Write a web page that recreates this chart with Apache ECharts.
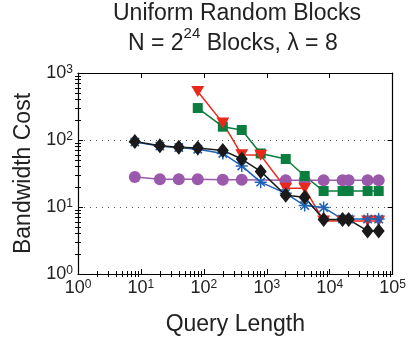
<!DOCTYPE html>
<html>
<head>
<meta charset="utf-8">
<script src="https://cdn.jsdelivr.net/npm/echarts@6/dist/echarts.min.js"></script>
<style>
    html, body { margin: 0; padding: 0; background: #fff; }
    #chart { width: 409px; height: 341px; }
</style>
</head>
<body>
<div id="chart"></div>
<script>
    // query lengths (x) per series
    const xLong = [8, 20, 40, 80, 200, 400, 800, 2000, 4000, 8000, 16000, 20000, 40000, 60000];
    const xPurple = [8, 20, 40, 80, 200, 400, 2000, 4000, 8000, 16000, 20000, 40000, 60000];
    const xShort = [80, 200, 400, 800, 2000, 4000, 8000, 16000, 20000, 40000, 60000];

    // bandwidth cost (y)
    const purpleCost = [28, 26, 26, 26, 25.5, 25.5, 25, 25, 25, 25, 25, 25, 25];
    const greenCost = [300, 158, 141, 63, 52, 29, 17.3, 17.3, 17.3, 17.3, 17.3];
    const redCost = [530, 180, 60, 59, 19, 19, 6.2, 6.2, 6.2, 6.2, 6.2];
    const blueCost = [93, 81, 77, 73, 63, 41, 23.5, 16, 10.5, 9.8, 6.6, 6.6, 6.6, 6.6];
    const blackCost = [95, 82, 78, 76, 70, 52, 34, 15, 14, 6.5, 6.5, 6.5, 4.4, 4.4];

    const zip = (xs, ys) => xs.map((x, i) => [x, ys[i]]);

    // minor tick positions (in decades) for the decorative linear axes
    const minorPos = (decades) => {
        const out = [];
        for (let e = 0; e < decades; e++) {
            for (let k = 2; k <= 9; k++) out.push(e + Math.log10(k));
        }
        return out;
    };

    const FONT = 'Liberation Sans';
    const supRich = {
        b: { fontSize: 18, lineHeight: 18, verticalAlign: 'bottom', color: '#222', fontFamily: FONT },
        s: { fontSize: 12, lineHeight: 12, verticalAlign: 'top', padding: [0, 0, 10, 0], color: '#222', fontFamily: FONT }
    };
    const powLabel = (v) => '{b|10}{s|' + Math.round(Math.log10(v)) + '}';

    const tickStyle = { color: '#000', width: 1 };

    function majorAxis(pos, min, max, labels) {
        return {
            type: 'log', logBase: 10, min: min, max: max, position: pos,
            axisLine: { show: true, onZero: false, lineStyle: { color: '#000', width: 1.2 } },
            axisTick: { show: true, inside: true, length: 5, lineStyle: tickStyle },
            axisLabel: labels ? { show: true, formatter: powLabel, rich: supRich, margin: labels } : { show: false },
            splitLine: { show: false }
        };
    }
    function minorAxis(pos, decades) {
        return {
            type: 'value', min: 0, max: decades, position: pos,
            axisLine: { show: false },
            axisTick: { show: true, inside: true, length: 3, lineStyle: tickStyle, customValues: minorPos(decades) },
            axisLabel: { show: false },
            splitLine: { show: false }
        };
    }

    const xMain = majorAxis('bottom', 1, 100000, 5);
    xMain.name = 'Query Length';
    xMain.nameLocation = 'middle';
    xMain.nameGap = 39;
    xMain.nameTextStyle = { fontSize: 23, color: '#222', fontFamily: FONT };

    const yMain = majorAxis('left', 1, 1000, 5);
    yMain.name = 'Bandwidth Cost';
    yMain.nameLocation = 'middle';
    yMain.nameGap = 40;
    yMain.nameTextStyle = { fontSize: 23, color: '#222', fontFamily: FONT };
    yMain.splitLine = { show: true, lineStyle: { color: '#555', type: [1, 5], width: 1 } };

    function lineSeries(data, color, symbol, size, extra) {
        return Object.assign({
            type: 'line',
            data: data,
            xAxisIndex: 0,
            yAxisIndex: 0,
            symbol: symbol,
            symbolSize: size,
            showAllSymbol: true,
            lineStyle: { color: color, width: 1.5 },
            itemStyle: { color: color },
            emphasis: { disabled: true }
        }, extra || {});
    }

    const chart = echarts.init(document.getElementById('chart'), null, { renderer: 'canvas' });
    chart.setOption({
        animation: false,
        backgroundColor: '#fff',
        title: [
            {
                text: 'Uniform Random Blocks',
                left: 113, top: 2, padding: 0,
                textStyle: { fontSize: 23, fontWeight: 'normal', color: '#222', fontFamily: FONT }
            },
            {
                text: '{a|N = 2}{s|24}{a| Blocks, λ = 8}',
                left: 128, top: 26, padding: 0,
                textStyle: {
                    fontWeight: 'normal',
                    rich: {
                        a: { fontSize: 23, fontWeight: 'normal', lineHeight: 36, verticalAlign: 'middle', color: '#222', fontFamily: FONT },
                        s: { fontSize: 15, fontWeight: 'normal', lineHeight: 15, verticalAlign: 'top', color: '#222', fontFamily: FONT }
                    }
                }
            }
        ],
        grid: { left: 78, right: 12, top: 73, bottom: 67, containLabel: false },
        xAxis: [
            xMain,
            minorAxis('bottom', 5),
            majorAxis('top', 1, 100000, 0),
            minorAxis('top', 5)
        ],
        yAxis: [
            yMain,
            minorAxis('left', 3),
            majorAxis('right', 1, 1000, 0),
            minorAxis('right', 3)
        ],
        series: [
            lineSeries(zip(xPurple, purpleCost), '#9b59ab', 'circle', 12),
            lineSeries(zip(xShort, greenCost), '#0b7d3e', 'rect', 10),
            lineSeries(zip(xShort, redCost), '#e8291c', 'triangle', [13, 11], { symbolRotate: 180 }),
            lineSeries(zip(xLong, blueCost), '#1f63b5', 'path://M0,-10L0,10M-10,0L10,0M-7,-7L7,7M-7,7L7,-7', 12,
                { itemStyle: { color: '#1f63b5', borderColor: '#1f63b5', borderWidth: 1.5 } }),
            lineSeries(zip(xLong, blackCost), '#1a1a1a', 'diamond', [12, 15])
        ]
    });
</script>
</body>
</html>
